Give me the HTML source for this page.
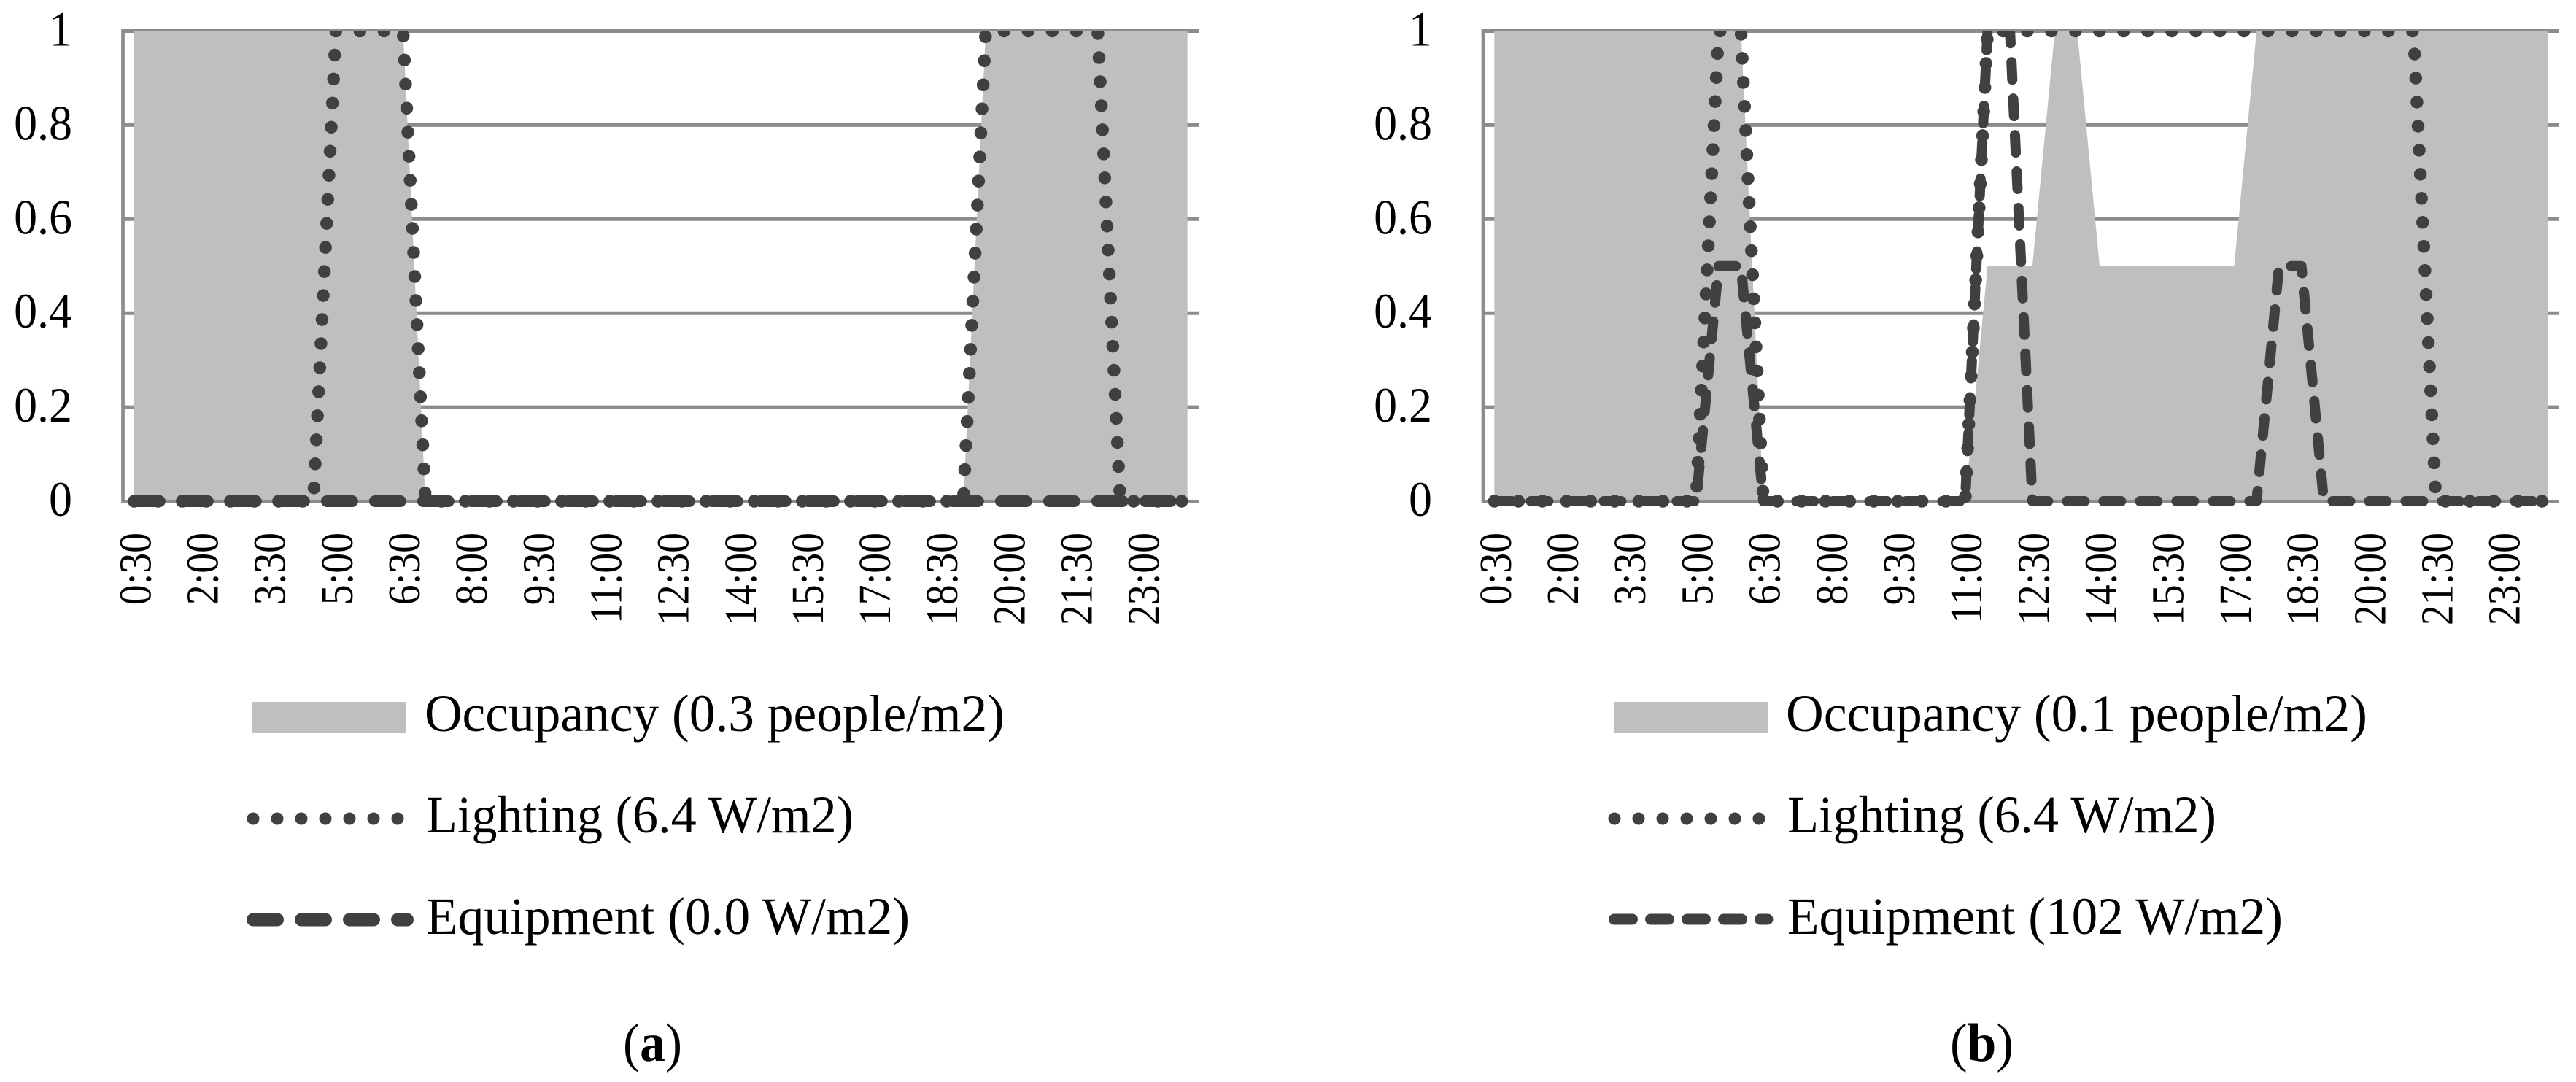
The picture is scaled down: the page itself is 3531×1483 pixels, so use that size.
<!DOCTYPE html>
<html lang="en">
<head>
<meta charset="utf-8">
<title>Occupancy, lighting and equipment schedules</title>
<style>
html,body{margin:0;padding:0;background:#fff;}
svg{display:block;}
text{font-family:"Liberation Serif",serif;fill:#000;}
</style>
</head>
<body>
<svg id="figure" xmlns="http://www.w3.org/2000/svg" width="3531" height="1483" viewBox="0 0 3531 1483">
  <rect width="3531" height="1483" fill="#fff"/>
  <defs>
    <clipPath id="clip-top"><rect x="0" y="42" width="3531" height="1000"/></clipPath>
  </defs>
  <g id="panel-a"></g>
  <g id="panel-b"></g>

  <g>
    <rect x="346" y="962" width="211" height="42" fill="#bfbfbf"/>
    <text x="582" y="1002" font-size="72" textLength="795" lengthAdjust="spacingAndGlyphs">Occupancy (0.3 people/m2)</text>
    <line x1="347" y1="1122" x2="558" y2="1122" stroke="#404040" stroke-width="17" stroke-linecap="round" stroke-dasharray="0 33"/>
    <text x="584" y="1141" font-size="72" textLength="586" lengthAdjust="spacingAndGlyphs">Lighting (6.4 W/m2)</text>
    <line x1="347" y1="1260.5" x2="558" y2="1260.5" stroke="#404040" stroke-width="18" stroke-linecap="round" stroke-dasharray="33 33"/>
    <text x="584" y="1280" font-size="72" textLength="663" lengthAdjust="spacingAndGlyphs">Equipment (0.0 W/m2)</text>
  </g>

  <g>
    <rect x="2212" y="962" width="211" height="42" fill="#bfbfbf"/>
    <text x="2448" y="1002" font-size="72" textLength="797" lengthAdjust="spacingAndGlyphs">Occupancy (0.1 people/m2)</text>
    <line x1="2213" y1="1122" x2="2424" y2="1122" stroke="#404040" stroke-width="17" stroke-linecap="round" stroke-dasharray="0 33"/>
    <text x="2450" y="1141" font-size="72" textLength="588" lengthAdjust="spacingAndGlyphs">Lighting (6.4 W/m2)</text>
    <line x1="2212.5" y1="1260" x2="2423" y2="1260" stroke="#404040" stroke-width="15" stroke-linecap="round" stroke-dasharray="25 25"/>
    <text x="2450" y="1280" font-size="72" textLength="679" lengthAdjust="spacingAndGlyphs">Equipment (102 W/m2)</text>
  </g>

  <text x="854" y="1454" font-size="74" textLength="81" lengthAdjust="spacingAndGlyphs">(<tspan font-weight="bold">a</tspan>)</text>
  <text x="2673" y="1454" font-size="74" textLength="87" lengthAdjust="spacingAndGlyphs">(<tspan font-weight="bold">b</tspan>)</text>
</svg>

<script>
const categories = ["0:30","1:00","1:30","2:00","2:30","3:00","3:30","4:00","4:30","5:00","5:30","6:00","6:30","7:00","7:30","8:00","8:30","9:00","9:30","10:00","10:30","11:00","11:30","12:00","12:30","13:00","13:30","14:00","14:30","15:00","15:30","16:00","16:30","17:00","17:30","18:00","18:30","19:00","19:30","20:00","20:30","21:00","21:30","22:00","22:30","23:00","23:30","24:00"];
const yTickValues = [0, 0.2, 0.4, 0.6, 0.8, 1];
const yTickLabels = ["0", "0.2", "0.4", "0.6", "0.8", "1"];

const occupancyA = [1,1,1,1,1,1,1,1,1,1,1,1,1,0,0,0,0,0,0,0,0,0,0,0,0,0,0,0,0,0,0,0,0,0,0,0,0,0,1,1,1,1,1,1,1,1,1,1];
const lightingA  = [0,0,0,0,0,0,0,0,0,1,1,1,1,0,0,0,0,0,0,0,0,0,0,0,0,0,0,0,0,0,0,0,0,0,0,0,0,0,1,1,1,1,1,1,0,0,0,0];
const equipmentA = [0,0,0,0,0,0,0,0,0,0,0,0,0,0,0,0,0,0,0,0,0,0,0,0,0,0,0,0,0,0,0,0,0,0,0,0,0,0,0,0,0,0,0,0,0,0,0,0];

const occupancyB = [1,1,1,1,1,1,1,1,1,1,1,1,0,0,0,0,0,0,0,0,0,0,0.5,0.5,0.5,1,1,0.5,0.5,0.5,0.5,0.5,0.5,0.5,1,1,1,1,1,1,1,1,1,1,1,1,1,1];
const lightingB  = [0,0,0,0,0,0,0,0,0,0,1,1,0,0,0,0,0,0,0,0,0,0,1,1,1,1,1,1,1,1,1,1,1,1,1,1,1,1,1,1,1,1,0,0,0,0,0,0];
const equipmentB = [0,0,0,0,0,0,0,0,0,0,0.5,0.5,0,0,0,0,0,0,0,0,0,0,1,1,0,0,0,0,0,0,0,0,0,0,0,0.5,0.5,0,0,0,0,0,0,0,0,0,0,0];

const SVG_NS = "http://www.w3.org/2000/svg";

function drawPanel(panelId, plotLeft, plotRight, labelRight, occupancy, lighting, equipment, equipWidth, equipDash) {
  const root = document.getElementById(panelId);
  const plotTop = 42.5;
  const plotBottom = 687;
  const step = (plotRight - plotLeft) / categories.length;
  const xScale = function (i) { return plotLeft + step * (i + 0.5); };
  const yScale = function (v) { return plotBottom - v * (plotBottom - plotTop); };
  const linePath = function (values) {
    return values.map(function (v, i) { return (i ? "L" : "M") + xScale(i).toFixed(2) + " " + yScale(v).toFixed(2); }).join(" ");
  };

  // horizontal gridlines
  yTickValues.forEach(function (v) {
    if (v === 0) return;
    const grid = document.createElementNS(SVG_NS, "line");
    grid.setAttribute("x1", plotLeft);
    grid.setAttribute("x2", plotRight);
    grid.setAttribute("y1", yScale(v));
    grid.setAttribute("y2", yScale(v));
    grid.setAttribute("stroke", "#8c8c8c");
    grid.setAttribute("stroke-width", "5");
    
    
    root.appendChild(grid);
  });

  // occupancy area
  const area = document.createElementNS(SVG_NS, "path");
  area.setAttribute("d", linePath(occupancy) + " L" + xScale(occupancy.length - 1).toFixed(2) + " " + yScale(0) + " L" + xScale(0).toFixed(2) + " " + yScale(0) + " Z");
  area.setAttribute("fill", "#bfbfbf");
  
  
  root.appendChild(area);

  // axes
  const yAxis = document.createElementNS(SVG_NS, "line");
  yAxis.setAttribute("x1", plotLeft);
  yAxis.setAttribute("x2", plotLeft);
  yAxis.setAttribute("y1", plotTop - 2.5);
  yAxis.setAttribute("y2", plotBottom + 3);
  yAxis.setAttribute("stroke", "#8c8c8c");
  yAxis.setAttribute("stroke-width", "4.7");
  
  
  root.appendChild(yAxis);

  const xAxis = document.createElementNS(SVG_NS, "line");
  xAxis.setAttribute("x1", plotLeft);
  xAxis.setAttribute("x2", plotRight);
  xAxis.setAttribute("y1", plotBottom + 0.5);
  xAxis.setAttribute("y2", plotBottom + 0.5);
  xAxis.setAttribute("stroke", "#8c8c8c");
  xAxis.setAttribute("stroke-width", "5");
  
  
  root.appendChild(xAxis);

  // lighting series
  const lightingLine = document.createElementNS(SVG_NS, "path");
  lightingLine.setAttribute("d", linePath(lighting));
  lightingLine.setAttribute("fill", "none");
  lightingLine.setAttribute("stroke", "#404040");
  lightingLine.setAttribute("stroke-width", "17.5");
  lightingLine.setAttribute("stroke-linecap", "round");
  lightingLine.setAttribute("stroke-linejoin", "round");
  lightingLine.setAttribute("stroke-dasharray", "0 33");
  lightingLine.setAttribute("clip-path", "url(#clip-top)");
  
  
  root.appendChild(lightingLine);

  // equipment series
  const equipmentLine = document.createElementNS(SVG_NS, "path");
  equipmentLine.setAttribute("d", linePath(equipment));
  equipmentLine.setAttribute("fill", "none");
  equipmentLine.setAttribute("stroke", "#404040");
  equipmentLine.setAttribute("stroke-width", equipWidth);
  equipmentLine.setAttribute("stroke-linecap", "round");
  equipmentLine.setAttribute("stroke-linejoin", "round");
  equipmentLine.setAttribute("stroke-dasharray", equipDash);
  equipmentLine.setAttribute("clip-path", "url(#clip-top)");
  
  
  root.appendChild(equipmentLine);

  // y tick labels
  yTickValues.forEach(function (v, k) {
    const label = document.createElementNS(SVG_NS, "text");
    label.setAttribute("transform", "translate(" + labelRight + " " + (yScale(v) + 20).toFixed(2) + ") scale(0.94 1)");
    label.setAttribute("text-anchor", "end");
    label.setAttribute("font-size", "68");
    label.textContent = yTickLabels[k];
    
    
    root.appendChild(label);
  });

  // x tick labels, every third category
  categories.forEach(function (name, i) {
    if (i % 3 !== 0) return;
    const tick = document.createElementNS(SVG_NS, "text");
    tick.setAttribute("transform", "translate(" + (xScale(i) + 22.5).toFixed(2) + " 730) rotate(-90) scale(0.9 1)");
    tick.setAttribute("text-anchor", "end");
    tick.setAttribute("font-size", "62");
    tick.textContent = name;
    
    
    root.appendChild(tick);
  });
}

drawPanel("panel-a", 168.5, 1643, 99, occupancyA, lightingA, equipmentA, 16, "35 31");
drawPanel("panel-b", 2033, 3508, 1963, occupancyB, lightingB, equipmentB, 14, "24 26");
</script>
</body>
</html>
